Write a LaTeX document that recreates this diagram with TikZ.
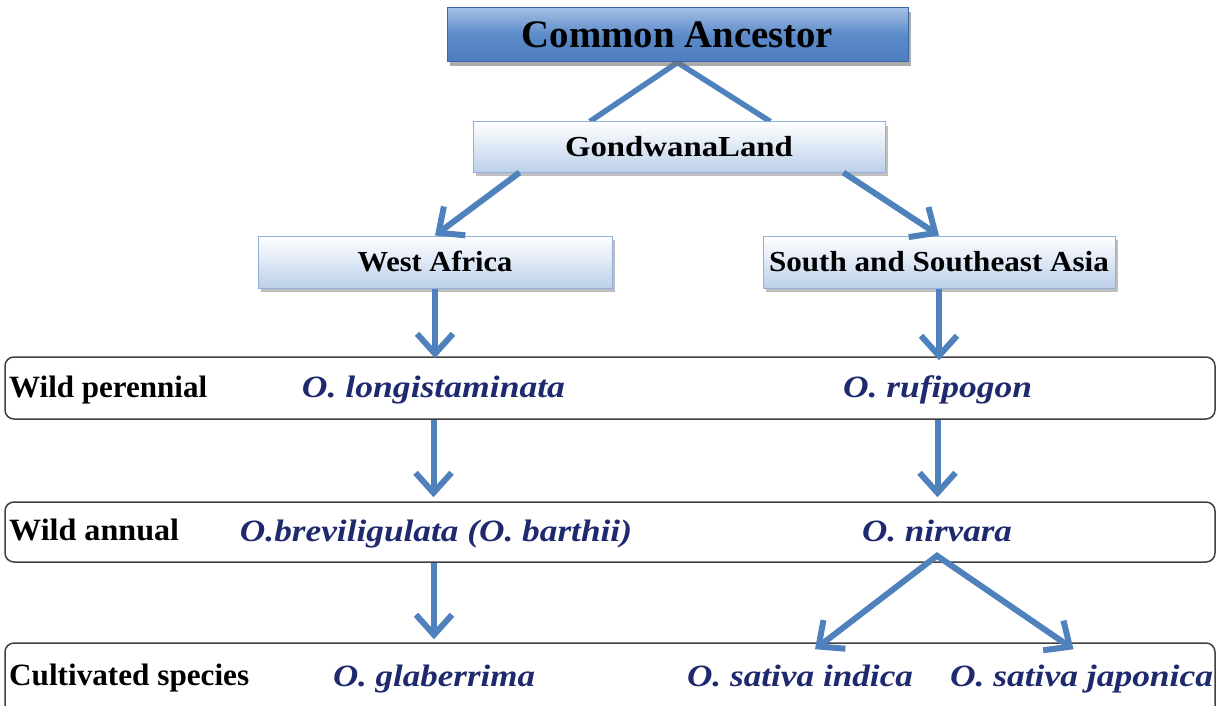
\documentclass[tikz,border=0pt]{standalone}
\usepackage{fontspec}
\setmainfont{Liberation Serif}
\usetikzlibrary{arrows.meta,shadows,calc,backgrounds}
\definecolor{arrowblue}{HTML}{4F81BD}
\definecolor{navy}{HTML}{1F2A6E}
\definecolor{catop}{HTML}{A3BEE3}
\definecolor{camid}{HTML}{5B8BC9}
\definecolor{cabot}{HTML}{4C7DBE}
\definecolor{caline}{HTML}{3B69A8}
\definecolor{boxbot}{HTML}{BCD0EA}
\definecolor{boxline}{HTML}{8FB1DB}
\newcommand{\fitw}[2]{\resizebox{#1}{\height}{#2}}
\begin{document}
\begin{tikzpicture}[x=1pt,y=-1pt,
  cabox/.style={draw=caline, line width=1pt, top color=catop, bottom color=cabot, middle color=camid,
    drop shadow={shadow xshift=3pt,shadow yshift=-4pt,fill=black!55,opacity=0.6},
    inner sep=0pt, font=\fontsize{39}{42}\selectfont\bfseries},
  hdr/.style={draw=boxline, line width=1pt, top color=white, bottom color=boxbot,
    drop shadow={shadow xshift=3pt,shadow yshift=-4pt,fill=black!50,opacity=0.5},
    inner sep=0pt, font=\fontsize{29}{32}\selectfont\bfseries},
  band/.style={draw=black!75, line width=1.5pt, rounded corners=9pt, fill=white, inner sep=0pt},
  lab/.style={anchor=base west, inner sep=0pt, font=\fontsize{31}{34}\selectfont\bfseries},
  sp/.style={anchor=base, inner sep=0pt, text=navy, font=\fontsize{31}{34}\selectfont\bfseries\itshape},
  arr/.style={draw=arrowblue, line width=6pt, -{Straight Barb[length=20pt,width=36pt]}},
  arrtwo/.style={draw=arrowblue, line width=6pt, line join=miter, {Straight Barb[length=20pt,width=36pt]}-{Straight Barb[length=20pt,width=36pt]}},
  tie/.style={draw=arrowblue, line width=5.5pt, line join=miter}]
\useasboundingbox (0,0) rectangle (1225,706);
\clip (0,0) rectangle (1225,706);

% bands
\node[band, minimum width=1210pt, minimum height=62pt] (b1) at (610,388) {};
\node[band, minimum width=1210pt, minimum height=60pt] (b2) at (610,532) {};
\node[band, minimum width=1210pt, minimum height=90pt] (b3) at (610,688) {};

% header boxes
\node[cabox, minimum width=461pt, minimum height=54pt] (ca) at (677.5,35) {\fitw{311pt}{Common Ancestor}};
\node[hdr, minimum width=412pt, minimum height=50pt] (gl) at (679,147) {\fitw{228pt}{GondwanaLand}};
\node[hdr, minimum width=354pt, minimum height=52pt] (wa) at (435,262) {\fitw{155pt}{West Africa}};
\node[hdr, minimum width=352pt, minimum height=52pt] (sa) at (939,262) {\fitw{340pt}{South and Southeast Asia}};

% row labels
\node[lab] (lwp) at (9,397) {\fitw{198pt}{Wild perennial}};
\node[lab] (lwa) at (9,540) {\fitw{170pt}{Wild annual}};
\node[lab] (lcs) at (9,685) {\fitw{240pt}{Cultivated species}};

% species
\node[sp] (lon) at (433.5,397) {\fitw{263pt}{O. longistaminata}};
\node[sp] (ruf) at (937.5,397) {\fitw{189pt}{O. rufipogon}};
\node[sp] (bre) at (436,541) {\fitw{392pt}{O.breviligulata (O. barthii)}};
\node[sp] (nir) at (937,541) {\fitw{150pt}{O. nirvara}};
\node[sp] (gla) at (434,686) {\fitw{202pt}{O. glaberrima}};
\node[sp] (ind) at (800,686) {\fitw{226pt}{O. sativa indica}};
\node[sp] (jap) at (1081.5,686) {\fitw{263pt}{O. sativa japonica}};

% connectors
\begin{scope}[on background layer]
\draw[tie] ($(gl.north west)!0.284!(gl.north east)$) -- (ca.south) -- ($(gl.north west)!0.721!(gl.north east)$);
\end{scope}
\draw[arr] ($(gl.south west)!0.114!(gl.south east)$) -- (wa.north);
\draw[arr] ($(gl.south west)!0.898!(gl.south east)$) -- (sa.north);
\draw[arr] (wa.south) -- ($(wa.south |- b1.north)+(0,2)$);
\draw[arr] (sa.south) -- ($(sa.south |- b1.north)+(0,4)$);
\draw[arr] (lon |- b1.south) -- ($(lon |- b2.north)+(0,-4)$);
\draw[arr] (ruf |- b1.south) -- ($(ruf |- b2.north)+(0,-4)$);
\draw[arr] (gla |- b2.south) -- ($(gla |- b3.north)+(0,-3)$);
\draw[arrtwo] ($(ind |- b3.north)+(15,7)$) -- ($(nir |- b2.south)+(0,-7)$) -- ($(jap |- b3.north)+(-8,7)$);
\end{tikzpicture}
\end{document}
